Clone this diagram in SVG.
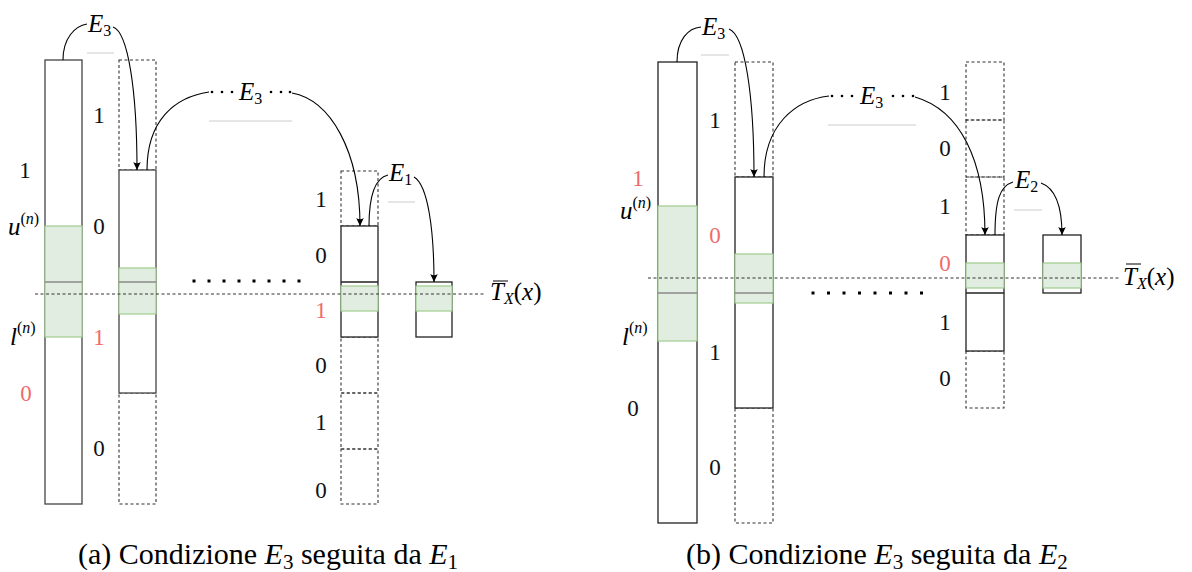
<svg xmlns="http://www.w3.org/2000/svg" width="1192" height="572" viewBox="0 0 1192 572">
<defs>
<marker id="arr" viewBox="-8 -4 9 8" refX="0" refY="0" markerUnits="userSpaceOnUse" markerWidth="9" markerHeight="8" orient="auto">
<path d="M0,0 L-8,-3.8 Q-5.5,0 -8,3.8 Z" fill="#000"/>
</marker>
</defs>
<style>
.bar{fill:#fff;stroke:#444;stroke-width:1.3}
.barb{fill:#fff;stroke:#222;stroke-width:1.3}
.dash{fill:none;stroke:#333;stroke-width:1.1;stroke-dasharray:3 2.5}
.grn{fill:#e1ede0;stroke:#9fcb8d;stroke-width:1.2}
.gl{stroke:#888;stroke-width:1.6}
.bl{stroke:#222;stroke-width:1.6}
.axis{stroke:#333;stroke-width:1;stroke-dasharray:3 2.5}
.ul{stroke:#ccc;stroke-width:1}
.cv{fill:none;stroke:#000;stroke-width:1.1}
.ar{marker-end:url(#arr)}
.d{font-size:23px;fill:#111;text-anchor:middle}
.r{fill:#f06a6a}
.m{font-style:italic;font-size:25px;fill:#000}
.s{font-size:16px;font-style:normal}
.si{font-size:16px}
.cap{font-size:30px;fill:#000}
.dot{fill:#000}
</style>
<g font-family="Liberation Serif, DejaVu Serif, serif">
<!-- ===== Panel (a) ===== -->
<g id="a-bar1">
<rect class="bar" x="45" y="60" width="37" height="444"/>
<rect class="grn" x="45" y="226" width="37" height="111"/>
<line class="gl" x1="45" y1="282" x2="82" y2="282"/>
</g>
<g id="a-bar2">
<rect class="dash" x="119" y="60" width="37" height="110"/>
<rect class="dash" x="119" y="393" width="37" height="111"/>
<rect class="bar" x="119" y="170" width="37" height="223"/>
<rect class="grn" x="119" y="268" width="37" height="46"/>
<line class="gl" x1="119" y1="282" x2="156" y2="282"/>
</g>
<g id="a-bar3">
<rect class="dash" x="341" y="171" width="37" height="55"/>
<rect class="dash" x="341" y="337" width="37" height="56"/>
<rect class="dash" x="341" y="393" width="37" height="56"/>
<rect class="dash" x="341" y="449" width="37" height="55"/>
<rect class="barb" x="341" y="226" width="37" height="111"/>
<line class="bl" x1="341" y1="282" x2="378" y2="282"/>
<rect class="grn" x="341" y="286" width="37" height="25"/>
</g>
<g id="a-bar4">
<rect class="barb" x="416" y="282" width="36" height="55"/>
<rect class="grn" x="416" y="286" width="36" height="25"/>
</g>
<line class="axis" x1="35" y1="294" x2="486" y2="294"/>
<g id="a-dots">
<rect class="dot" x="192.5" y="279.5" width="3" height="3"/><rect class="dot" x="207.5" y="279.5" width="3" height="3"/>
<rect class="dot" x="222.5" y="279.5" width="3" height="3"/><rect class="dot" x="237.5" y="279.5" width="3" height="3"/>
<rect class="dot" x="252.5" y="279.5" width="3" height="3"/><rect class="dot" x="267.5" y="279.5" width="3" height="3"/>
<rect class="dot" x="282.5" y="279.5" width="3" height="3"/><rect class="dot" x="297.5" y="279.5" width="3" height="3"/>
</g>
<g id="a-labels">
<text class="d" x="25" y="178">1</text>
<text class="m" x="8" y="235">u<tspan class="s" dy="-11">(</tspan><tspan class="si">n</tspan><tspan class="s">)</tspan></text>
<text class="m" x="10" y="345">l<tspan class="s" dy="-12">(</tspan><tspan class="si">n</tspan><tspan class="s">)</tspan></text>
<text class="d r" x="26" y="401">0</text>
<text class="d" x="99" y="123">1</text>
<text class="d" x="99" y="234">0</text>
<text class="d r" x="99" y="345">1</text>
<text class="d" x="99" y="456">0</text>
<text class="d" x="321" y="207">1</text>
<text class="d" x="321" y="263">0</text>
<text class="d r" x="321" y="318">1</text>
<text class="d" x="321" y="373">0</text>
<text class="d" x="321" y="430">1</text>
<text class="d" x="321" y="498">0</text>
<line x1="493" y1="281" x2="508" y2="281" stroke="#000" stroke-width="1"/>
<text class="m" x="490" y="300">T<tspan class="si" font-size="17" dy="4">X</tspan><tspan font-style="normal" dy="-4">(</tspan>x<tspan font-style="normal">)</tspan></text>
</g>
<g id="a-edges">
<path class="cv" d="M63,60 C63,38 75,26 87,24"/>
<path class="cv ar" d="M113,27 C128,32 137,90 137,170"/>
<path class="cv" d="M147,170 C147,120 175,97 209,92"/>
<path class="cv ar" d="M292,93 C330,100 360,150 360,226"/>
<path class="cv" d="M369,226 C369,195 375,178 388,175"/>
<path class="cv ar" d="M414,177 C428,185 434,230 434,282"/>
<text class="m" x="88" y="32">E<tspan class="s" dy="4">3</tspan></text>
<line class="ul" x1="87" y1="53" x2="114" y2="53"/>
<circle class="dot" cx="212" cy="92" r="1.3"/><circle class="dot" cx="222" cy="92" r="1.3"/><circle class="dot" cx="232" cy="92" r="1.3"/>
<text class="m" x="239" y="100">E<tspan class="s" dy="4">3</tspan></text>
<circle class="dot" cx="271" cy="92" r="1.3"/><circle class="dot" cx="281" cy="92" r="1.3"/><circle class="dot" cx="290" cy="92" r="1.3"/>
<line class="ul" x1="209" y1="121" x2="292" y2="121"/>
<text class="m" x="389" y="181">E<tspan class="s" dy="4">1</tspan></text>
<line class="ul" x1="388" y1="202" x2="415" y2="202"/>
</g>

<!-- ===== Panel (b) ===== -->
<g id="b-bar1">
<rect class="barb" x="658" y="62" width="39" height="461"/>
<rect class="grn" x="658" y="206" width="39" height="135"/>
<line class="gl" x1="658" y1="293" x2="697" y2="293"/>
</g>
<g id="b-bar2">
<rect class="dash" x="735" y="62" width="38" height="115"/>
<rect class="dash" x="735" y="408" width="38" height="115"/>
<rect class="barb" x="735" y="177" width="38" height="231"/>
<rect class="grn" x="735" y="254" width="38" height="49"/>
<line class="gl" x1="735" y1="293" x2="773" y2="293"/>
</g>
<g id="b-bar3">
<rect class="dash" x="966" y="62" width="38" height="58"/>
<rect class="dash" x="966" y="120" width="38" height="57"/>
<rect class="dash" x="966" y="177" width="38" height="58"/>
<rect class="dash" x="966" y="351" width="38" height="57"/>
<rect class="barb" x="966" y="235" width="38" height="116"/>
<line class="bl" x1="966" y1="293" x2="1004" y2="293"/>
<rect class="grn" x="966" y="263" width="38" height="25"/>
</g>
<g id="b-bar4">
<rect class="barb" x="1043" y="235" width="38" height="58"/>
<rect class="grn" x="1043" y="263" width="38" height="25"/>
</g>
<line class="axis" x1="648" y1="278" x2="1119" y2="278"/>
<g id="b-dots">
<rect class="dot" x="811.5" y="291.5" width="3" height="3"/><rect class="dot" x="827" y="291.5" width="3" height="3"/>
<rect class="dot" x="842.5" y="291.5" width="3" height="3"/><rect class="dot" x="858" y="291.5" width="3" height="3"/>
<rect class="dot" x="873.5" y="291.5" width="3" height="3"/><rect class="dot" x="889" y="291.5" width="3" height="3"/>
<rect class="dot" x="904.5" y="291.5" width="3" height="3"/><rect class="dot" x="920" y="291.5" width="3" height="3"/>
</g>
<g id="b-labels">
<text class="d r" x="638" y="186">1</text>
<text class="m" x="620" y="219">u<tspan class="s" dy="-11">(</tspan><tspan class="si">n</tspan><tspan class="s">)</tspan></text>
<text class="m" x="622" y="345">l<tspan class="s" dy="-12">(</tspan><tspan class="si">n</tspan><tspan class="s">)</tspan></text>
<text class="d" x="633" y="416">0</text>
<text class="d" x="715" y="128">1</text>
<text class="d r" x="715" y="243">0</text>
<text class="d" x="715" y="360">1</text>
<text class="d" x="715" y="475">0</text>
<text class="d" x="945" y="100">1</text>
<text class="d" x="945" y="156">0</text>
<text class="d" x="945" y="214">1</text>
<text class="d r" x="945" y="271">0</text>
<text class="d" x="945" y="330">1</text>
<text class="d" x="945" y="386">0</text>
<line x1="1126" y1="264" x2="1141" y2="264" stroke="#000" stroke-width="1"/>
<text class="m" x="1123" y="285">T<tspan class="si" font-size="17" dy="4">X</tspan><tspan font-style="normal" dy="-4">(</tspan>x<tspan font-style="normal">)</tspan></text>
</g>
<g id="b-edges">
<path class="cv" d="M677,62 C677,40 688,28 701,27"/>
<path class="cv ar" d="M729,29 C745,35 754,95 754,177"/>
<path class="cv" d="M764,177 C764,125 795,100 829,96"/>
<path class="cv ar" d="M915,97 C960,110 985,160 985,235"/>
<path class="cv" d="M995,235 C995,200 1000,186 1013,182"/>
<path class="cv ar" d="M1041,183 C1055,188 1062,205 1062,235"/>
<text class="m" x="702" y="35">E<tspan class="s" dy="4">3</tspan></text>
<line class="ul" x1="701" y1="55" x2="729" y2="55"/>
<circle class="dot" cx="832" cy="96" r="1.3"/><circle class="dot" cx="842" cy="96" r="1.3"/><circle class="dot" cx="852" cy="96" r="1.3"/>
<text class="m" x="860" y="104">E<tspan class="s" dy="4">3</tspan></text>
<circle class="dot" cx="893" cy="96" r="1.3"/><circle class="dot" cx="903" cy="96" r="1.3"/><circle class="dot" cx="913" cy="96" r="1.3"/>
<line class="ul" x1="828" y1="125" x2="916" y2="125"/>
<text class="m" x="1015" y="188">E<tspan class="s" dy="4">2</tspan></text>
<line class="ul" x1="1014" y1="210" x2="1042" y2="210"/>
</g>

<g id="captions">
<text class="cap" x="78" y="564">(a) Condizione <tspan font-style="italic">E</tspan><tspan font-size="21" dy="5">3</tspan><tspan dy="-5"> seguita da </tspan><tspan font-style="italic">E</tspan><tspan font-size="21" dy="5">1</tspan></text>
<text class="cap" x="686" y="564">(b) Condizione <tspan font-style="italic">E</tspan><tspan font-size="21" dy="5">3</tspan><tspan dy="-5"> seguita da </tspan><tspan font-style="italic">E</tspan><tspan font-size="21" dy="5">2</tspan></text>
</g>
</g>
</svg>
